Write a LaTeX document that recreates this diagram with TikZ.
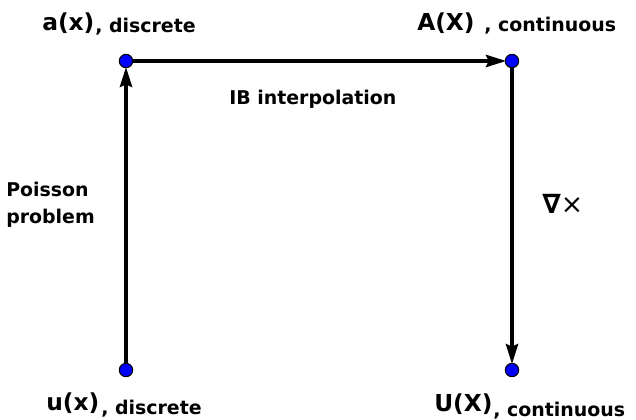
\documentclass[tikz,border=0pt]{standalone}
\usepackage{fontspec}
\setmainfont{DejaVu Sans}
\usetikzlibrary{arrows.meta}
\begin{document}
\begin{tikzpicture}[x=0.75pt,y=-0.75pt,
  dot/.style={circle,draw=black,fill=blue,line width=0.8pt,inner sep=0pt,minimum size=10pt},
  conn/.style={line width=3pt,-{Stealth[length=15pt,width=9pt,inset=2pt]},shorten >=-1pt},
  big/.style={font=\fontsize{17.5}{21}\selectfont\bfseries,inner sep=0pt,anchor=base west},
  txt/.style={font=\fontsize{14.2}{17}\selectfont\bfseries,inner sep=0pt,anchor=base west}]
\useasboundingbox (0,0) rectangle (636,419);
\node[dot] (a) at (126,61) {};
\node[dot] (A) at (512,61) {};
\node[dot] (u) at (126,370) {};
\node[dot] (U) at (512,370) {};
\draw[conn] (u) -- (a);
\draw[conn] (a) -- (A);
\draw[conn] (A) -- (U);
\node[big] (la) at (42,30) {a(x)};
\node[txt] (lad) at (95,32) {, discrete};
\node[big] (lA) at (417,30) {A(X)};
\node[txt] (lAc) at (484,31) {, continuous};
\node[big] (lu) at (46,410) {u(x)};
\node[txt] (lud) at (101,414) {, discrete};
\node[big] (lU) at (434,411) {U(X)};
\node[txt] (lUc) at (493,416) {, continuous};
\node[txt] (ib) at (229,104) {IB interpolation};
\node[txt,align=left,anchor=north west,font=\fontsize{14.2}{20.25}\selectfont\bfseries] (pp) at (6,182) {Poisson\\problem};
\node[txt,font=\fontsize{20}{24}\selectfont] (curl) at (542,213) {\textbf{∇}×};
\end{tikzpicture}
\end{document}
